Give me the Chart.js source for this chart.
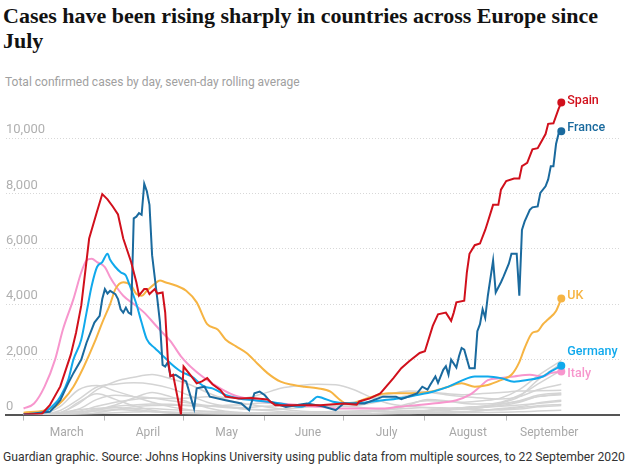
<!DOCTYPE html>
<html>
<head>
<meta charset="utf-8">
<script src="https://cdn.jsdelivr.net/npm/chart.js@4.4.0/dist/chart.umd.min.js"></script>
<style>
    body { margin: 0; width: 625px; height: 467px; background: #fff; position: relative; overflow: hidden; }
    h1 { position: absolute; left: 3px; top: 3px; margin: 0; width: 620px;
         font: bold 22px/25px "Liberation Serif", serif; color: #121212; }
    .sub { position: absolute; left: 5px; top: 75px; font: 12px Roboto, sans-serif; color: #a0a0a0; }
    .foot { position: absolute; left: 3px; top: 450px; font: 12.2px Roboto, sans-serif; color: #333; white-space: nowrap; }
    #wrap { position: absolute; left: 0; top: 80px; width: 625px; height: 370px; }
</style>
</head>
<body>
<h1>Cases have been rising sharply in countries across Europe since<br>July</h1>
<div class="sub">Total confirmed cases by day, seven-day rolling average</div>
<div id="wrap"><canvas id="chart"></canvas></div>
<div class="foot">Guardian graphic. Source: Johns Hopkins University using public data from multiple sources, to 22 September 2020</div>

<script>
// days counted from 1 March 2020, values = cases (7-day average)
var monthStarts = [0, 31, 61, 92, 122, 153, 184];
var monthNames = ["March", "April", "May", "June", "July", "August", "September"];
var yTicks = [0, 2000, 4000, 6000, 8000, 10000];

var spain = [[0,0],[7,30],[10,340],[14,1020],[18,2170],[20,2960],[22,3950],[25,6370],[28,7350],[30,7980],[32,7790],
    [34,7530],[36,7240],[38,6370],[41,5520],[43,4790],[44,4310],[46,4540],[47,4540],[48,4360],[50,4540],[51,4380],
    [53,4420],[54,3690],[55,1990],[56,1390],[57,1440],[60,0],[61,1740],[64,1380],[66,1130],[68,1200],[70,1320],
    [72,1100],[75,890],[77,650],[82,585],[87,600],[93,550],[96,340],[105,340],[113,340],[122,400],[127,360],
    [128,475],[132,585],[136,770],[141,1320],[144,1680],[147,1930],[151,2230],[153,2290],[156,3210],[158,3630],
    [161,3690],[163,3390],[164,3690],[165,4060],[168,4120],[169,5150],[170,5820],[172,6130],[174,6190],[176,6680],
    [177,6980],[179,7590],[181,7590],[182,8140],[184,8450],[187,8540],[189,8540],[190,8990],[192,9110],[194,9600],
    [196,9640],[197,9810],[199,10150],[200,10520],[202,10540],[204,11070],[205,11290]];

var france = [[0,0],[10,100],[12,300],[14,520],[17,1130],[19,1500],[22,1990],[24,2600],[27,3330],[29,3570],[30,4180],
    [31,4540],[32,4380],[33,4480],[35,4360],[36,4180],[37,3810],[38,3690],[39,3870],[40,3690],[41,3630],[42,7100],
    [43,7160],[44,7290],[45,7230],[46,8350],[47,8080],[48,7590],[49,5770],[51,4180],[52,3330],[53,1800],[54,1740],
    [55,1900],[56,1390],[58,1440],[61,1250],[62,1200],[65,220],[66,950],[69,1010],[71,650],[77,520],[83,400],
    [86,160],[88,770],[90,830],[92,700],[94,465],[96,400],[100,280],[108,400],[114,300],[119,160],[122,400],
    [130,400],[137,650],[142,650],[144,560],[150,770],[152,1010],[154,900],[155,1070],[157,1380],[158,1150],
    [160,1620],[161,1750],[162,1440],[163,1990],[165,1700],[166,2110],[167,2410],[168,2350],[170,1680],[172,1680],
    [173,3020],[174,3270],[175,3810],[176,3500],[177,4300],[179,5580],[180,4420],[182,4790],[183,5000],[185,5460],
    [186,5820],[188,5820],[189,4300],[190,6680],[191,6980],[193,7410],[194,7500],[196,7530],[197,8020],[199,8260],
    [200,8510],[201,8990],[202,8990],[203,9790],[204,10180],[205,10250]];

var germany = [[0,0],[8,100],[12,400],[14,650],[17,1250],[19,1990],[22,2720],[24,3690],[26,4670],[28,5340],[30,5520],
    [32,5820],[33,5600],[35,5340],[37,5150],[39,5030],[40,4790],[41,4540],[43,4000],[45,3330],[47,2720],[50,2410],
    [52,2230],[54,2050],[56,1860],[60,1560],[64,1380],[69,1010],[72,950],[77,710],[82,585],[88,520],[93,465],
    [98,400],[106,280],[110,500],[112,650],[114,600],[118,465],[124,400],[137,520],[143,585],[150,710],[156,830],
    [162,1010],[167,1230],[172,1380],[177,1380],[182,1320],[187,1190],[192,1250],[198,1380],[201,1560],[205,1770]];

var uk = [[0,70],[8,150],[12,280],[15,520],[19,1010],[23,1740],[27,2600],[30,3330],[33,4000],[35,4540],[38,4790],
    [41,4670],[43,4360],[45,4300],[47,4480],[50,4730],[52,4850],[54,4790],[58,4670],[62,4480],[66,4060],[70,3270],
    [74,3080],[77,2720],[81,2470],[85,2230],[89,1860],[93,1500],[98,1190],[103,1070],[107,1010],[112,950],[117,830],
    [120,585],[123,400],[125,400],[129,520],[133,650],[139,770],[147,770],[155,830],[162,1010],[167,1130],[172,1010],
    [177,1070],[182,1250],[186,1440],[189,1900],[191,2400],[194,2960],[196,3020],[198,3270],[200,3450],[203,3750],
    [205,4200]];

var italy = [[0,220],[4,400],[8,1010],[12,1990],[15,3080],[19,4180],[22,5150],[24,5580],[26,5640],[28,5520],[31,5340],
    [33,4970],[35,4670],[38,4300],[42,4000],[46,3690],[50,3270],[53,2960],[56,2660],[60,2110],[65,1620],[70,1250],
    [75,950],[80,710],[85,585],[92,465],[105,340],[113,280],[120,220],[137,220],[143,280],[156,400],[165,520],
    [170,710],[174,1010],[177,1250],[182,1320],[187,1380],[193,1440],[198,1380],[201,1500],[205,1560]];

// other European countries, sampled weekly
var greyDays = [0,7,14,21,28,35,42,49,56,63,70,77,84,91,98,105,112,119,126,133,140,147,154,161,168,175,182,189,196,205];
var grey1 = [0,5,80,400,900,1200,1350,1450,1300,1100,800,550,400,300,200,130,100,90,100,120,180,350,550,500,400,380,450,700,1100,1600];
var grey2 = [0,10,150,550,1000,1100,1150,1100,950,700,450,300,200,160,110,70,60,60,70,120,220,400,500,480,450,500,600,900,1400,1950];
var grey3 = [0,30,300,900,1050,850,650,450,280,180,100,60,40,25,20,20,25,40,70,100,110,120,150,200,250,260,300,350,400,480];
var grey4 = [0,15,60,120,300,450,550,600,580,600,650,620,600,750,950,1050,1100,1080,900,600,380,300,250,230,200,180,170,200,280,330];
var grey5 = [0,0,30,200,550,700,650,600,500,420,330,280,250,300,320,350,340,320,280,220,180,150,150,180,250,300,380,480,650,720];
var grey6 = [0,0,60,450,750,550,320,160,80,60,40,30,30,35,40,60,90,110,110,120,100,110,150,220,260,300,380,500,700,780];
var grey7 = [0,0,10,60,180,350,600,800,650,450,250,120,70,50,30,20,15,15,18,20,40,60,80,100,110,150,200,250,320,370];
var grey8 = [0,0,5,30,150,300,350,380,370,320,310,340,360,420,380,320,310,300,320,420,560,700,800,720,650,600,560,650,900,1100];
var grey9 = [0,5,60,110,130,170,220,220,180,150,120,100,60,40,30,25,20,12,12,30,60,70,60,60,90,150,220,280,420,520];
var grey10 = [0,0,5,20,70,180,280,330,340,340,310,260,200,180,200,250,300,360,460,600,750,850,820,760,720,760,800,850,860,880];
var grey11 = [0,0,15,70,220,260,200,110,60,50,40,40,50,70,70,80,90,110,130,160,200,230,260,240,210,260,420,650,1250,1850];
var grey12 = [0,0,0,10,40,70,90,110,90,70,45,30,20,15,10,10,12,15,20,30,50,80,120,150,200,260,330,450,650,750];
var grey13 = [0,15,70,180,220,190,150,100,60,35,20,12,10,10,10,10,10,12,12,15,25,35,55,60,65,75,85,100,130,160];
var greys = [grey1, grey2, grey3, grey4, grey5, grey6, grey7, grey8, grey9, grey10, grey11, grey12, grey13];

function pairs(list) {
    return list.map(function(p) { return {x: p[0], y: p[1]}; });
}

function mainLine(label, list, color, shift, smooth) {
    return {
        label: label,
        data: pairs(list),
        borderColor: color,
        backgroundColor: color,
        borderWidth: 2,
        tension: 0,
        cubicInterpolationMode: smooth ? "monotone" : "default",
        pointRadius: function(c) { return c.dataIndex === list.length - 1 ? 3 : 0; },
        endLabel: label,
        labelShift: shift
    };
}

var datasets = [
    mainLine("Spain", spain, "#d1101c", -2, false),
    mainLine("France", france, "#1a6a9e", -3, false),
    mainLine("Germany", germany, "#10a9ec", -14, true),
    mainLine("UK", uk, "#f6b443", -3, true),
    mainLine("Italy", italy, "#f796cd", 2, true)
];

greys.forEach(function(vals) {
    datasets.push({
        data: vals.map(function(v, i) { return {x: greyDays[i], y: v}; }),
        borderColor: "#d4d4d4",
        borderWidth: 1.5,
        cubicInterpolationMode: "monotone",
        pointRadius: 0
    });
});

var endLabels = {
    id: "endLabels",
    afterDatasetsDraw: function(chart) {
        var ctx = chart.ctx;
        chart.data.datasets.forEach(function(ds, i) {
            if (!ds.endLabel) return;
            var meta = chart.getDatasetMeta(i);
            var pt = meta.data[meta.data.length - 1];
            ctx.save();
            ctx.font = "500 12.5px Roboto, sans-serif";
            ctx.fillStyle = ds.borderColor;
            ctx.textBaseline = "middle";
            ctx.fillText(ds.endLabel, pt.x + 6, pt.y + ds.labelShift);
            ctx.restore();
        });
    }
};

new Chart(document.getElementById("chart"), {
    type: "line",
    data: { datasets: datasets },
    plugins: [endLabels],
    options: {
        responsive: true,
        maintainAspectRatio: false,
        animation: false,
        layout: { padding: { left: 5, right: 4, top: 14, bottom: 5 } },
        plugins: { legend: { display: false }, tooltip: { enabled: false } },
        scales: {
            x: {
                type: "linear",
                min: -6.7,
                max: 227,
                afterBuildTicks: function(scale) {
                    scale.ticks = monthStarts.map(function(v) { return {value: v}; });
                },
                ticks: {
                    callback: function(v, i) { return monthNames[i]; },
                    labelOffset: 43,
                    padding: 5,
                    maxRotation: 0,
                    autoSkip: false,
                    color: "#a8a8a8",
                    font: { family: "Roboto, sans-serif", size: 12 }
                },
                grid: { drawOnChartArea: false, drawTicks: true, tickLength: 6, color: "#bbbbbb" },
                border: { display: true, color: "#555555", width: 2 }
            },
            y: {
                min: 0,
                max: 11600,
                afterBuildTicks: function(scale) {
                    scale.ticks = yTicks.map(function(v) { return {value: v}; });
                },
                ticks: {
                    mirror: true,
                    padding: 0,
                    labelOffset: -8,
                    color: "#b0b0b0",
                    font: { family: "Roboto, sans-serif", size: 13 },
                    callback: function(v) { return v.toLocaleString("en-GB"); }
                },
                grid: {
                    drawTicks: false,
                    color: function(c) { return c.tick && c.tick.value === 0 ? "rgba(0,0,0,0)" : "#d8d8d8"; }
                },
                border: { display: false, dash: [1, 2] }
            }
        }
    }
});
</script>
</body>
</html>
